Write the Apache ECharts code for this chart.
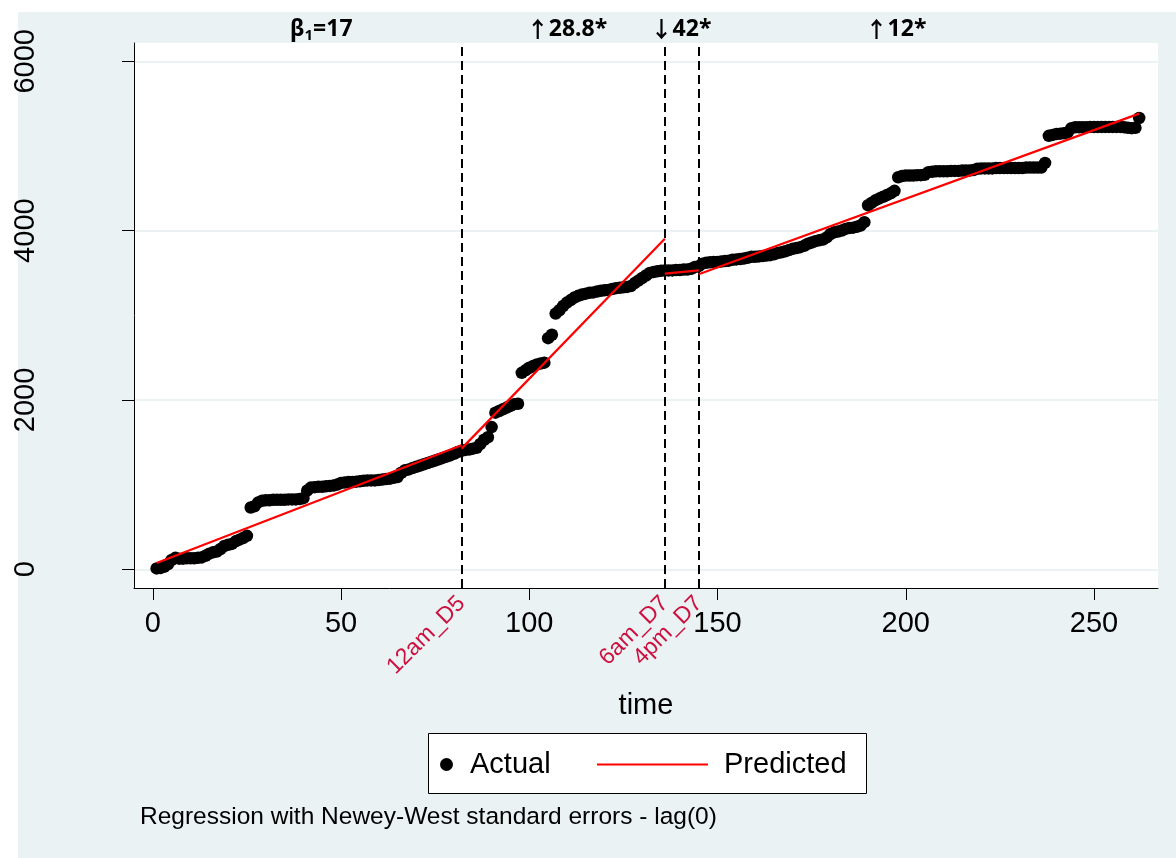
<!DOCTYPE html>
<html><head><meta charset="utf-8">
<script src="https://cdn.jsdelivr.net/npm/echarts@6/dist/echarts.min.js"></script>
<style>html,body{margin:0;padding:0;background:#fff}#c{width:1176px;height:858px}</style>
</head><body><div id="c"></div>
<script>
// Actual values, one per time step (time = 1 .. 262)
const actualValues = [
  10,15,30,60,110,135,125,125,130,130,
  130,135,140,160,185,200,210,240,275,290,
  300,330,350,370,395,730,745,790,810,815,
  815,820,820,820,820,825,825,825,830,840,
  930,965,970,975,975,980,985,990,1000,1020,
  1025,1030,1030,1035,1040,1045,1050,1050,1050,1055,
  1060,1065,1070,1080,1090,1140,1170,1180,1195,1210,
  1225,1240,1255,1270,1285,1300,1315,1330,1345,1365,
  1385,1400,1410,1415,1425,1435,1480,1530,1560,1680,
  1850,1870,1890,1910,1930,1950,1955,2320,2350,2380,
  2400,2420,2430,2440,2730,2770,3020,3060,3110,3150,
  3180,3210,3230,3245,3255,3265,3270,3280,3290,3295,
  3300,3310,3320,3325,3330,3335,3345,3380,3410,3440,
  3470,3500,3510,3520,3525,3530,3530,3530,3535,3535,
  3540,3540,3550,3570,3580,3610,3620,3625,3630,3630,
  3635,3640,3645,3655,3660,3665,3670,3680,3690,3690,
  3695,3700,3705,3710,3720,3735,3745,3755,3770,3785,
  3795,3805,3820,3845,3860,3875,3885,3895,3920,3960,
  3980,3990,4000,4020,4030,4035,4045,4060,4100,4300,
  4330,4360,4380,4400,4420,4440,4470,4630,4645,4650,
  4650,4650,4655,4655,4660,4690,4695,4700,4700,4700,
  4700,4705,4705,4705,4710,4710,4710,4715,4730,4735,
  4735,4735,4735,4740,4740,4740,4740,4740,4740,4740,
  4740,4745,4745,4745,4745,4745,4800,5120,5130,5140,
  5145,5150,5160,5210,5220,5220,5220,5220,5225,5225,
  5225,5225,5225,5225,5225,5225,5225,5220,5215,5210,
  5215,5330
];
const timeValues = actualValues.map((v, i) => i + 1);

// Predicted (segmented regression) segment end points
const predStartT = [1, 82, 136, 145];
const predEndT   = [82, 136, 145, 262];
const predStartV = [75, 1425, 3492, 3484];
const predEndV   = [1465, 3905, 3531, 5382];

// Break points
const breakTimes  = [82, 136, 145];
const breakLabels = ['12am_D5', '6am_D7', '4pm_D7'];

// Axis ticks
const xTicks = [0, 50, 100, 150, 200, 250];
const yTicks = [0, 2000, 4000, 6000];

// Annotations above the plot
const annotationTexts = ['{b|β}{s|1}{b|=17}', '{a|↑}{b|28.8*}', '{a|↓}{b|42*}', '{a|↑}{b|12*}'];
const noteText = 'Regression with Newey-West standard errors - lag(0)';

const FONT = '"Liberation Sans", Arial, sans-serif';
const BG = '#EAF2F3';
const RED_LBL = '#cc1040';

const chart = echarts.init(document.getElementById('c'), null, {renderer: 'canvas'});

const predSeries = predStartT.map((t, i) => ({
  name: 'Predicted',
  type: 'line',
  xAxisIndex: 0, yAxisIndex: 0,
  data: [[t, predStartV[i]], [predEndT[i], predEndV[i]]],
  symbol: 'none',
  lineStyle: {color: '#ff0000', width: 2.2},
  itemStyle: {color: '#ff0000'},
  z: 5,
  silent: true
}));

const annX = [290, 567, 681, 896];
const annAlign = ['left', 'center', 'center', 'center'];
const ANN_FONT = '"Noto Sans", "DejaVu Sans", sans-serif';

const option = {
  backgroundColor: BG,
  animation: false,
  grid: {left: 134, top: 43, right: 18, bottom: 270, show: true, backgroundColor: '#ffffff', borderWidth: 0, containLabel: false},
  xAxis: [{
    type: 'value', min: -5, max: 267,
    name: 'time', nameLocation: 'middle', nameGap: 103,
    nameTextStyle: {fontFamily: FONT, fontSize: 29, color: '#000'},
    axisLine: {show: true, onZero: false, lineStyle: {color: '#000', width: 1}},
    axisTick: {show: true, customValues: xTicks, length: 12, lineStyle: {color: '#000'}},
    axisLabel: {customValues: xTicks, fontFamily: FONT, fontSize: 29, color: '#000', margin: 21,
      formatter: v => String(v)},
    splitLine: {show: false}
  }, {
    type: 'value', min: -5, max: 267, position: 'bottom',
    axisLine: {show: false},
    axisTick: {show: true, customValues: breakTimes, length: 5, lineStyle: {color: '#999'}},
    axisLabel: {customValues: breakTimes, rotate: 45, margin: 12, fontFamily: FONT, fontSize: 23, color: RED_LBL,
      formatter: v => breakLabels[breakTimes.indexOf(v)] || ''},
    splitLine: {show: false}
  }],
  yAxis: {
    type: 'value', min: -221, max: 6216,
    axisLine: {show: true, onZero: false, lineStyle: {color: '#000', width: 1}},
    axisTick: {show: true, customValues: yTicks, length: 12, lineStyle: {color: '#000'}},
    axisLabel: {customValues: yTicks, rotate: 90, fontFamily: FONT, fontSize: 29, color: '#000', margin: 94,
      formatter: v => String(v)},
    splitLine: {show: true, lineStyle: {color: BG, width: 2}}
  },
  legend: [{
    data: ['Actual'], left: 440, top: 750, padding: 0,
    icon: 'circle', itemWidth: 13, itemHeight: 13,
    textStyle: {fontFamily: FONT, fontSize: 29, color: '#000', padding: [0, 0, 0, 12]},
    selectedMode: false
  }, {
    data: ['Predicted'], left: 597, top: 750, padding: 0,
    icon: 'rect', itemWidth: 111, itemHeight: 2,
    itemStyle: {color: '#ff0000'},
    textStyle: {fontFamily: FONT, fontSize: 29, color: '#000', padding: [0, 0, 0, 11]},
    selectedMode: false
  }],
  graphic: [
    {type: 'rect', z: -10, shape: {x: 0, y: 0, width: 1176, height: 12}, style: {fill: '#fff'}, silent: true},
    {type: 'rect', z: -10, shape: {x: 0, y: 0, width: 18, height: 858}, style: {fill: '#fff'}, silent: true},
    {type: 'rect', z: 1, shape: {x: 428.5, y: 733.5, width: 438, height: 60}, style: {fill: '#fff', stroke: '#000', lineWidth: 1}, silent: true},
    {type: 'text', z: 10, x: 140, y: 817, style: {text: noteText, font: '24.5px ' + FONT, fill: '#000', verticalAlign: 'middle', align: 'left'}},
  ].concat(annotationTexts.map((t, i) => ({
    type: 'text', z: 10, x: annX[i], y: 29,
    style: {
      text: t, fill: '#000', align: annAlign[i], verticalAlign: 'middle',
      font: 'bold 23px ' + ANN_FONT,
      rich: {
        a: {fontFamily: '"Noto Sans CJK SC", "DejaVu Sans", sans-serif', fontWeight: 'bold', fontSize: 22},
        b: {fontFamily: ANN_FONT, fontWeight: 'bold', fontSize: 23},
        s: {fontFamily: ANN_FONT, fontWeight: 'bold', fontSize: 15, padding: [13, 0, 0, 0]}
      }
    }
  }))),
  series: [{
    name: 'Actual',
    type: 'scatter',
    xAxisIndex: 0, yAxisIndex: 0,
    data: timeValues.map((t, i) => [t, actualValues[i]]),
    symbol: 'circle', symbolSize: 12.5,
    itemStyle: {color: '#000', opacity: 1},
    z: 3,
    silent: true,
    markLine: {
      silent: true, symbol: ['none', 'none'],
      label: {show: false},
      lineStyle: {color: '#000', width: 2, type: [9, 5]},
      data: breakTimes.map(t => ({xAxis: t})),
      animation: false
    }
  }].concat(predSeries)
};
chart.setOption(option);
</script>
</body></html>
